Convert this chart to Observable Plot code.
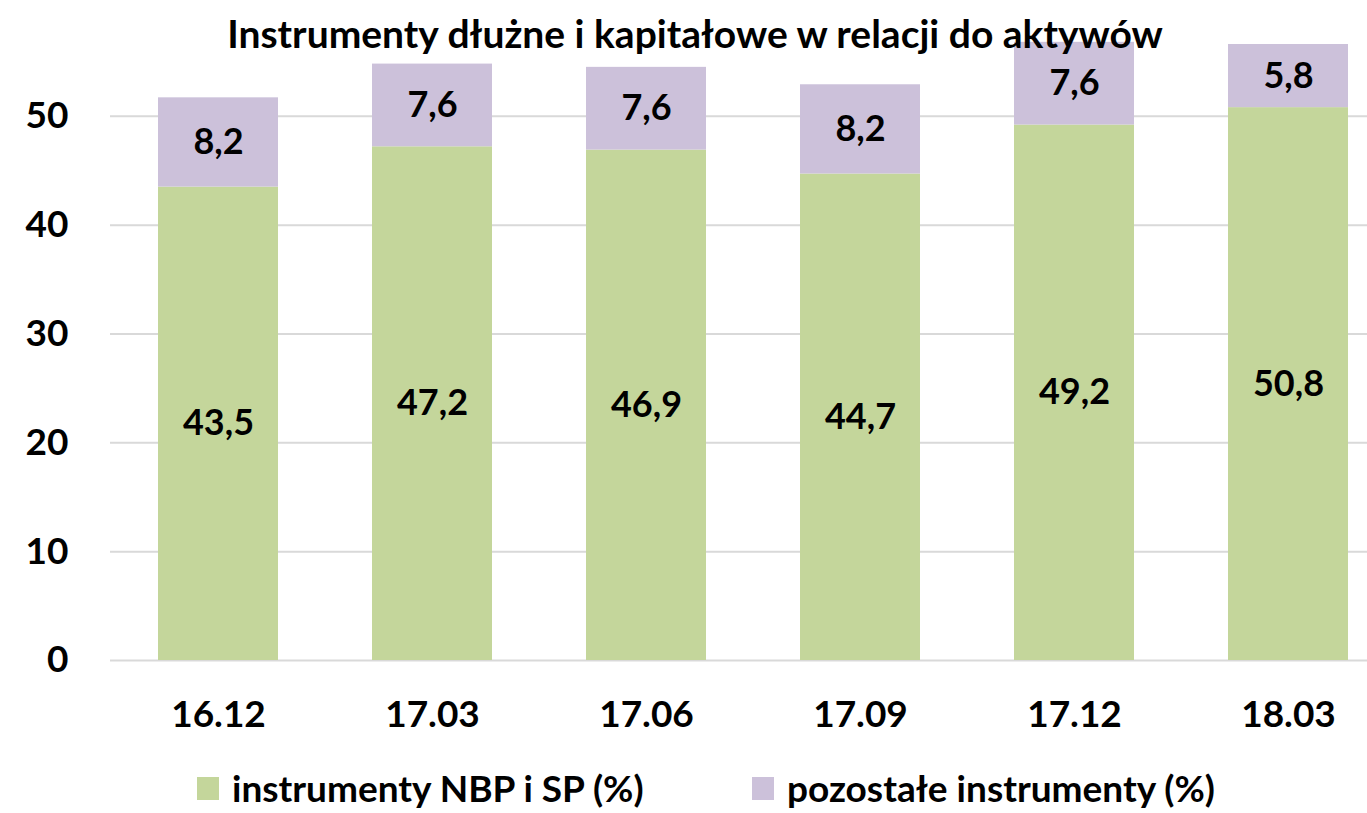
<!DOCTYPE html>
<html>
<head>
<meta charset="utf-8">
<script src="https://cdn.jsdelivr.net/npm/d3@7"></script>
<script src="https://cdn.jsdelivr.net/npm/@observablehq/plot@0.6"></script>
<style>
  html, body { margin: 0; padding: 0; background: #fff; }
  body { width: 1367px; height: 813px; overflow: hidden; font-family: Lato, "Open Sans", sans-serif; font-weight: bold; position: relative; }
  #title { position: absolute; top: 10px; left: 0; width: 1390px; text-align: center; font-size: 39px; line-height: 46px; font-weight: bold; color: #000; z-index: 2; }
  #legend { position: absolute; top: 766px; left: 0; width: 1367px; height: 44px; font-size: 37px; line-height: 44px; color: #000; }
  .item { position: absolute; top: 0; height: 44px; display: flex; align-items: center; }
  .sw { width: 22px; height: 23px; margin-right: 13px; }
  #chart { position: absolute; top: 0; left: 0; }
</style>
</head>
<body>
<div id="chart"></div>
<div id="title">Instrumenty dłużne i kapitałowe w relacji do aktywów</div>
<div id="legend"></div>
<script>
const categories = ["16.12", "17.03", "17.06", "17.09", "17.12", "18.03"];
const seriesNames = ["instrumenty NBP i SP (%)", "pozostałe instrumenty (%)"];
const nbpValues = [43.5, 47.2, 46.9, 44.7, 49.2, 50.8];
const otherValues = [8.2, 7.6, 7.6, 8.2, 7.6, 5.8];
const yTicks = [0, 10, 20, 30, 40, 50];
const colors = ["#c4d69b", "#ccc1da"];

const data = [];
categories.forEach((c, i) => {
  data.push({cat: c, series: seriesNames[0], value: nbpValues[i]});
  data.push({cat: c, series: seriesNames[1], value: otherValues[i]});
});
const fmt = v => v.toFixed(1).replace(".", ",");

const chart = Plot.plot({
  width: 1367,
  height: 760,
  marginTop: 44,
  marginBottom: 100,
  marginLeft: 110,
  marginRight: 0,
  style: {fontFamily: "Lato, 'Open Sans', sans-serif", fontWeight: "bold", fontSize: "37px", color: "#000", background: "transparent", overflow: "visible"},
  x: {domain: categories, range: [110, 1396], paddingInner: 0.44, paddingOuter: 0.22, label: null},
  y: {domain: [0, 56.6], label: null},
  color: {domain: seriesNames, range: colors},
  marks: [
    Plot.ruleY(yTicks, {stroke: "#d9d9d9", strokeWidth: 2}),
    Plot.barY(data, Plot.stackY({x: "cat", y: "value", fill: "series", order: seriesNames})),
    Plot.text(data, Plot.stackY({x: "cat", y: "value", z: "series", order: seriesNames, text: d => fmt(d.value), fontSize: 36, fontWeight: "bold", fill: "#000"})),
    Plot.axisY({ticks: yTicks, tickSize: 0, tickPadding: 42, fontSize: 37, fontWeight: "bold"}),
    Plot.axisX({tickSize: 0, tickPadding: 40, fontSize: 37, fontWeight: "bold"})
  ]
});
document.getElementById("chart").appendChild(chart);

const legend = document.getElementById("legend");
const lpos = [197, 752];
seriesNames.forEach((s, i) => {
  const it = document.createElement("div");
  it.className = "item";
  it.style.left = lpos[i] + "px";
  it.innerHTML = `<span class="sw" style="background:${colors[i]}"></span><span>${s}</span>`;
  legend.appendChild(it);
});
</script>
</body>
</html>
